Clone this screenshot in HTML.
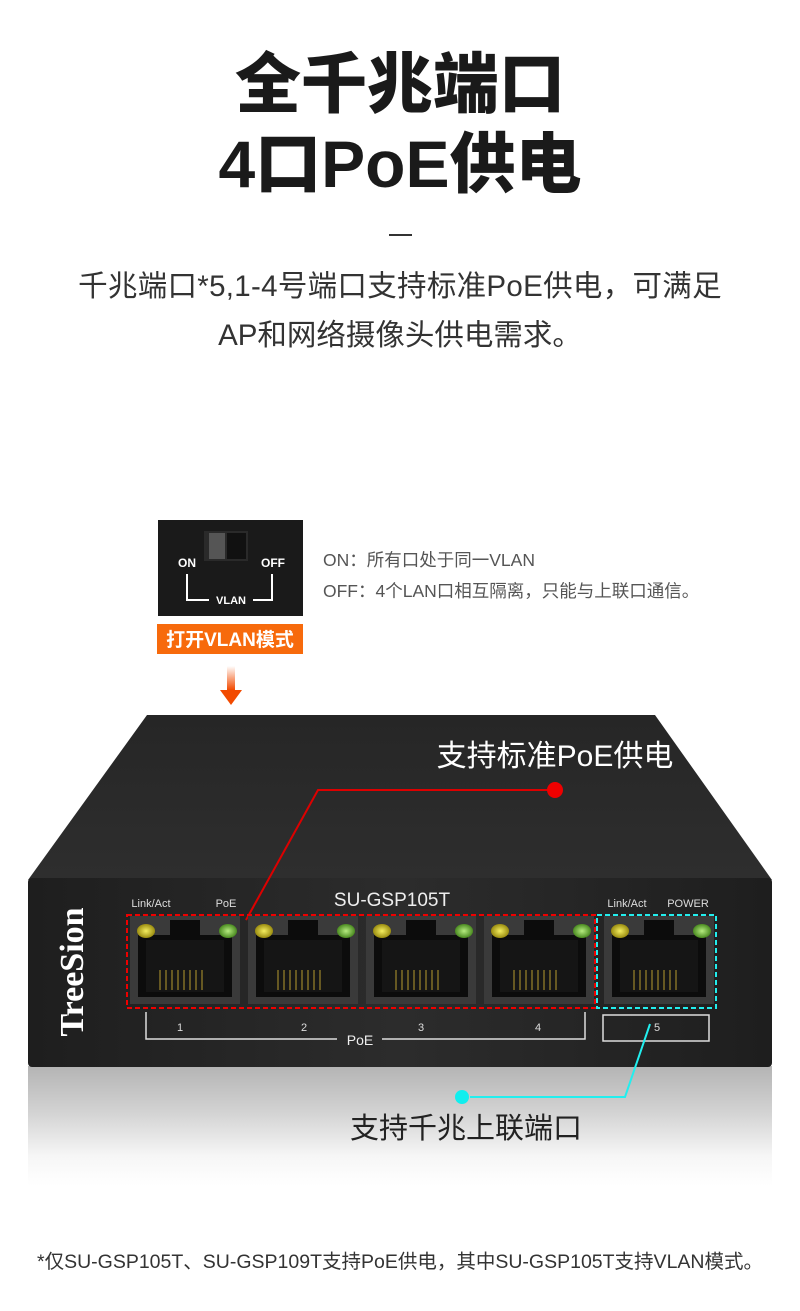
<!DOCTYPE html>
<html><head><meta charset="utf-8"><style>
html,body{margin:0;padding:0;background:#fff;}
body{width:800px;height:1311px;position:relative;overflow:hidden;font-family:"Liberation Sans","Noto Sans CJK SC",sans-serif;}
.t{position:absolute;left:0;width:800px;text-align:center;color:#1a1a1a;}
</style></head><body>
<div class="t" style="top:44px;font-size:66px;font-weight:900;line-height:80px;letter-spacing:0px;">全千兆端口</div>
<div class="t" style="top:124px;font-size:66px;font-weight:900;line-height:80px;">4口PoE供电</div>
<div style="position:absolute;left:389px;top:234px;width:23px;height:2px;background:#333"></div>
<div class="t" style="top:266px;font-size:29.5px;line-height:42px;color:#333;letter-spacing:0.3px;">千兆端口*5,1-4号端口支持标准PoE供电，可满足</div>
<div class="t" style="top:315px;font-size:29.5px;line-height:42px;color:#333;">AP和网络摄像头供电需求。</div>

<svg width="800" height="1311" style="position:absolute;left:0;top:0" xmlns="http://www.w3.org/2000/svg">
<defs>
<linearGradient id="top" x1="0" y1="0" x2="0" y2="1"><stop offset="0" stop-color="#262626"/><stop offset="1" stop-color="#2e2e2e"/></linearGradient>
<linearGradient id="refl" x1="0" y1="0" x2="0" y2="1"><stop offset="0" stop-color="#b4b4b4"/><stop offset="0.4" stop-color="#d4d4d4"/><stop offset="0.75" stop-color="#f6f6f6"/><stop offset="1" stop-color="#ffffff"/></linearGradient>
<linearGradient id="front" x1="0" y1="0" x2="1" y2="0"><stop offset="0" stop-color="#1e1e1e"/><stop offset="0.5" stop-color="#2c2c2c"/><stop offset="1" stop-color="#1e1e1e"/></linearGradient>
<linearGradient id="arr" x1="0" y1="0" x2="0" y2="1"><stop offset="0" stop-color="#fff"/><stop offset="1" stop-color="#f24a00"/></linearGradient>
<radialGradient id="y"><stop offset="0" stop-color="#f4ee60"/><stop offset="1" stop-color="#9a8c10"/></radialGradient>
<radialGradient id="g"><stop offset="0" stop-color="#b6ec80"/><stop offset="1" stop-color="#4a8a20"/></radialGradient>
</defs>
<rect x="158" y="520" width="145" height="96" fill="#1a1a1a"/>
<rect x="204" y="531" width="44" height="30" fill="#2a2a2a"/>
<rect x="209" y="533" width="16" height="26" fill="#555"/>
<rect x="227" y="533" width="19" height="26" fill="#111"/>
<text x="178" y="567" fill="#fff" font-size="12" font-weight="bold" font-family="Liberation Sans">ON</text>
<text x="261" y="567" fill="#fff" font-size="12" font-weight="bold" font-family="Liberation Sans">OFF</text>
<polyline points="187,574 187,600 209,600" fill="none" stroke="#fff" stroke-width="2"/>
<polyline points="253,600 272,600 272,574" fill="none" stroke="#fff" stroke-width="2"/>
<text x="231" y="604" fill="#fff" font-size="11" font-weight="bold" text-anchor="middle" font-family="Liberation Sans">VLAN</text>
<rect x="157" y="624" width="146" height="30" fill="#f76a0c"/>
<text x="230" y="646" fill="#fff" font-size="19" font-weight="bold" text-anchor="middle">打开VLAN模式</text>
<rect x="227" y="666" width="8" height="24" fill="url(#arr)"/>
<polygon points="220,690 242,690 231,705" fill="#f24a00"/>
<text x="323" y="566" fill="#555" font-size="17.5">ON：所有口处于同一VLAN</text>
<text x="323" y="597" fill="#555" font-size="17.5">OFF：4个LAN口相互隔离，只能与上联口通信。</text>

<rect x="28" y="1066" width="744" height="120" fill="url(#refl)"/>
<polygon points="147,715 655,715 772,880 28,880" fill="url(#top)"/>
<rect x="28" y="878" width="744" height="189" rx="4" fill="url(#front)"/>
<text x="555" y="766" fill="#fff" font-size="30" text-anchor="middle">支持标准PoE供电</text>
<polyline points="555,790 318,790 246,920" fill="none" stroke="#d00" stroke-width="2"/>
<circle cx="555" cy="790" r="8" fill="#e00"/>
<text transform="translate(83,972) rotate(-90)" fill="#fff" font-size="34" font-weight="bold" text-anchor="middle" font-family="Liberation Serif">TreeSion</text>
<text x="392" y="906" fill="#eee" font-size="19" text-anchor="middle">SU-GSP105T</text>
<text x="151" y="907" fill="#ddd" font-size="11" text-anchor="middle">Link/Act</text>
<text x="226" y="907" fill="#ddd" font-size="11" text-anchor="middle">PoE</text>
<text x="627" y="907" fill="#ddd" font-size="11" text-anchor="middle">Link/Act</text>
<text x="688" y="907" fill="#ddd" font-size="11" text-anchor="middle">POWER</text>
<g id="p">
<rect x="130" y="916" width="110" height="88" fill="#3a3a3a"/>
<rect x="138" y="935" width="94" height="62" fill="#0c0c0c"/>
<rect x="170" y="920" width="30" height="18" fill="#0c0c0c"/>
<rect x="146" y="940" width="78" height="52" fill="#151515"/>
<g stroke="#b89a30" stroke-width="1"><line x1="160" y1="970" x2="160" y2="990"/><line x1="166" y1="970" x2="166" y2="990"/><line x1="172" y1="970" x2="172" y2="990"/><line x1="178" y1="970" x2="178" y2="990"/><line x1="184" y1="970" x2="184" y2="990"/><line x1="190" y1="970" x2="190" y2="990"/><line x1="196" y1="970" x2="196" y2="990"/><line x1="202" y1="970" x2="202" y2="990"/></g>
<ellipse cx="146" cy="931" rx="9" ry="7" fill="url(#y)"/>
<ellipse cx="228" cy="931" rx="9" ry="7" fill="url(#g)"/>
</g>
<use href="#p" x="118"/><use href="#p" x="236"/><use href="#p" x="354"/><use href="#p" x="474"/>
<rect x="127" y="915" width="468" height="93" fill="none" stroke="#e00" stroke-width="2" stroke-dasharray="5,3"/>
<rect x="597" y="915" width="119" height="93" fill="none" stroke="#2ee" stroke-width="2" stroke-dasharray="5,3"/>
<polyline points="146,1012 146,1039 337,1039" fill="none" stroke="#ddd" stroke-width="1.5"/>
<polyline points="382,1039 585,1039 585,1012" fill="none" stroke="#ddd" stroke-width="1.5"/>
<text x="360" y="1045" fill="#eee" font-size="14" text-anchor="middle">PoE</text>
<text x="180" y="1031" fill="#ddd" font-size="11" text-anchor="middle">1</text>
<text x="304" y="1031" fill="#ddd" font-size="11" text-anchor="middle">2</text>
<text x="421" y="1031" fill="#ddd" font-size="11" text-anchor="middle">3</text>
<text x="538" y="1031" fill="#ddd" font-size="11" text-anchor="middle">4</text>
<rect x="603" y="1015" width="106" height="26" fill="none" stroke="#ddd" stroke-width="1.5"/>
<text x="657" y="1031" fill="#ddd" font-size="11" text-anchor="middle">5</text>
<polyline points="470,1097 625,1097 650,1024" fill="none" stroke="#2ee" stroke-width="2"/>
<circle cx="462" cy="1097" r="7" fill="#1ee"/>
<text x="466" y="1138" fill="#222" font-size="29" text-anchor="middle">支持千兆上联端口</text>
</svg>
<div class="t" style="top:1248px;font-size:19.5px;line-height:28px;color:#333;">*仅SU-GSP105T、SU-GSP109T支持PoE供电，其中SU-GSP105T支持VLAN模式。</div>
</body></html>
